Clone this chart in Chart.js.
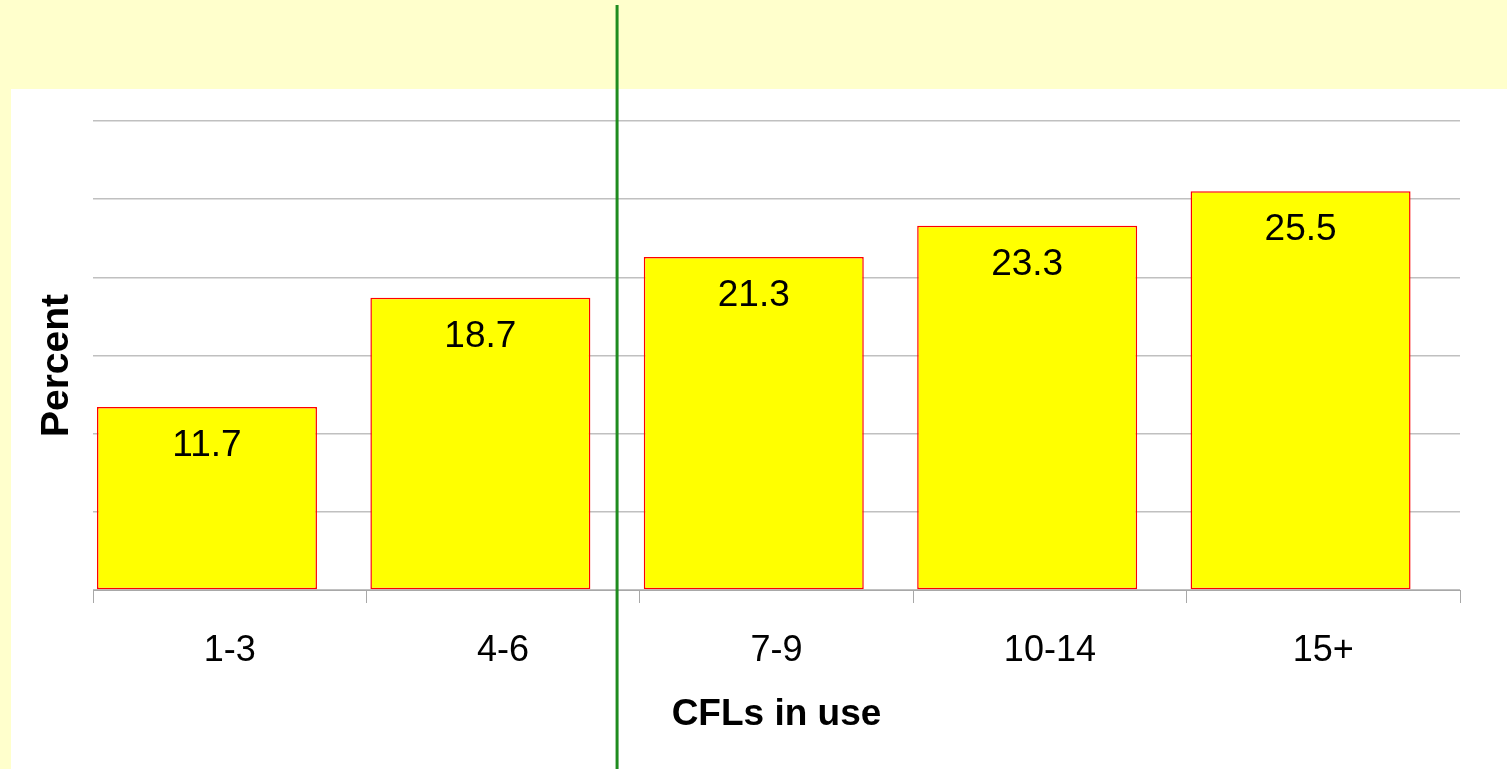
<!DOCTYPE html>
<html>
<head>
<meta charset="utf-8">
<title>CFLs in use</title>
<script src="https://cdn.jsdelivr.net/npm/chart.js@4/dist/chart.umd.min.js"></script>
<style>
  html, body { margin: 0; padding: 0; background: #FFFFCC; }
  #wrap { width: 1507px; height: 769px; position: relative; }
</style>
</head>
<body>
<div id="wrap"><canvas id="chart"></canvas></div>
<script>
// Share of households by number of CFLs in use
const categories = ['1-3', '4-6', '7-9', '10-14', '15+'];
const percentValues = [11.7, 18.7, 21.3, 23.3, 25.5];
const spacerValues = [null, null, null, null, null];
const yTicks = [0, 5, 10, 15, 20, 25, 30];

const FONT = '"Liberation Sans", Arial, sans-serif';

// Pale yellow page with a white panel behind the plot
const panelBackground = {
  id: 'panelBackground',
  beforeDraw(chart) {
    const { ctx, width, height } = chart;
    ctx.save();
    ctx.fillStyle = '#FFFFCC';
    ctx.fillRect(0, 0, width, height);
    ctx.fillStyle = '#FFFFFF';
    ctx.fillRect(11, 89, width - 11, height - 89);
    ctx.restore();
  }
};

// Value printed inside the top of each bar
const barValues = {
  id: 'barValues',
  afterDatasetsDraw(chart) {
    const { ctx } = chart;
    const meta = chart.getDatasetMeta(0);
    const data = chart.data.datasets[0].data;
    ctx.save();
    ctx.font = '37px ' + FONT;
    ctx.fillStyle = '#000000';
    ctx.textAlign = 'center';
    ctx.textBaseline = 'alphabetic';
    meta.data.forEach((bar, i) => {
      ctx.fillText(data[i].toFixed(1), bar.x, bar.y + 49);
    });
    ctx.restore();
  }
};

// Vertical axis title, set a little below the middle of the plot
const yTitle = {
  id: 'yTitle',
  afterDraw(chart) {
    const { ctx, chartArea } = chart;
    ctx.save();
    ctx.translate(57, (chartArea.top + chartArea.bottom) / 2 + 10);
    ctx.rotate(-Math.PI / 2);
    ctx.font = 'bold 39px ' + FONT;
    ctx.fillStyle = '#000000';
    ctx.textAlign = 'center';
    ctx.textBaseline = 'middle';
    ctx.fillText('Percent', 0, 0);
    ctx.restore();
  }
};

// Green divider in the gap between the 4-6 and 7-9 bars
const divider = {
  id: 'divider',
  afterDraw(chart) {
    const { ctx, height } = chart;
    const bars = chart.getDatasetMeta(0).data;
    const leftEdge = bars[1].x + bars[1].width / 2;
    const rightEdge = bars[2].x - bars[2].width / 2;
    const xPos = (leftEdge + rightEdge) / 2;
    ctx.save();
    ctx.strokeStyle = '#1F8C1F';
    ctx.lineWidth = 3;
    ctx.beginPath();
    ctx.moveTo(xPos, 5);
    ctx.lineTo(xPos, height);
    ctx.stroke();
    ctx.restore();
  }
};

new Chart(document.getElementById('chart'), {
  type: 'bar',
  data: {
    labels: categories,
    datasets: [{
      data: percentValues,
      backgroundColor: '#FFFF00',
      borderColor: '#FF0000',
      borderWidth: 1.5,
      borderSkipped: false,
      barPercentage: 4.84,
      categoryPercentage: 0.3325
    }, {
      // empty second series keeps each bar toward the left of its slot
      data: spacerValues,
      backgroundColor: 'rgba(0,0,0,0)',
      borderWidth: 0,
      barPercentage: 4.84,
      categoryPercentage: 0.3325
    }]
  },
  options: {
    responsive: true,
    maintainAspectRatio: false,
    animation: false,
    layout: { padding: { left: 0, top: 121, right: 47, bottom: 0 } },
    plugins: {
      legend: { display: false },
      tooltip: { enabled: false }
    },
    scales: {
      x: {
        offset: true,
        grid: {
          offset: true,
          drawOnChartArea: false,
          drawTicks: true,
          tickLength: 13,
          color: '#A8A8A8',
          lineWidth: 1
        },
        border: { display: true, color: '#A8A8A8', width: 1 },
        ticks: {
          color: '#000000',
          font: { family: FONT, size: 36 },
          padding: 26,
          maxRotation: 0
        },
        title: {
          display: true,
          text: 'CFLs in use',
          color: '#000000',
          font: { family: FONT, size: 37, weight: 'bold' },
          padding: { top: 0, bottom: 32 }
        },
        afterFit(scale) { scale.height = 179; }
      },
      y: {
        min: 0,
        max: 30,
        afterBuildTicks(scale) {
          scale.ticks = yTicks.map(v => ({ value: v }));
        },
        ticks: { display: false },
        grid: {
          drawTicks: false,
          color: '#C0C0C0',
          lineWidth: 1.5
        },
        border: { display: false },
        title: { display: false },
        afterFit(scale) { scale.width = 93; }
      }
    }
  },
  plugins: [panelBackground, barValues, yTitle, divider]
});
</script>
</body>
</html>
